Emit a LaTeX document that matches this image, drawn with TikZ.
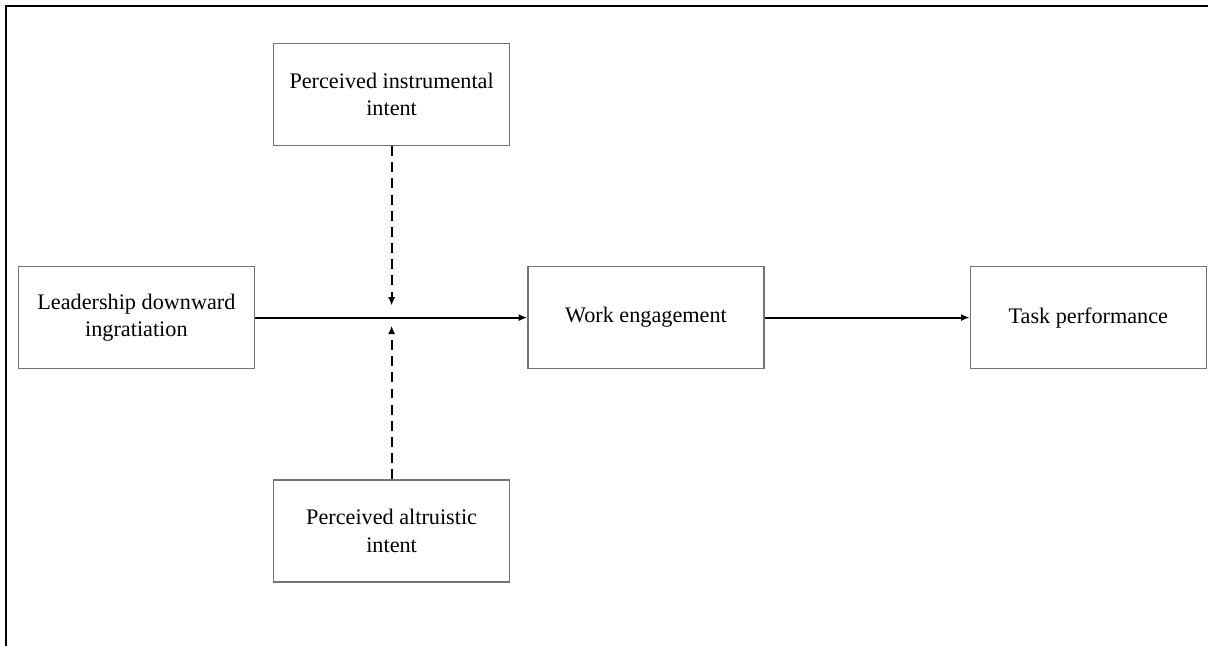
\documentclass[tikz,border=0pt]{standalone}
\usepackage{fontspec}
\setmainfont{Liberation Serif}
\usetikzlibrary{positioning,arrows.meta}

\begin{document}
\begin{tikzpicture}[
    box/.style={draw=black!55, line width=1.1pt, minimum width=5.9cm, minimum height=2.55cm,
        inner sep=2pt, align=center, font=\fontsize{15.8}{19.5}\selectfont},
    link/.style={line width=1.3pt, -{Latex[length=6pt,width=5pt]}},
    modline/.style={link, dash pattern=on 7pt off 4.5pt}
]
    \useasboundingbox (0,0) rectangle (30.2,16.15);

    % Marco exterior (solo se ven dos lados)
    \draw[line width=1.8pt] (0.15,0) -- (0.15,16.0) -- (30.2,16.0);

    % Cadena principal
    \node[box] (lead) at (3.41,8.21) {Leadership downward\\ingratiation};
    \node[box, right=6.8cm of lead] (work) {Work engagement};
    \node[box, right=5.12cm of work] (task) {Task performance};

    % Moderadores
    \node[box] (instr) at (9.79,13.79) {Perceived instrumental\\intent};
    \node[box] (altru) at (9.79,2.875) {Perceived altruistic\\intent};

    % Flechas
    \draw[link] (lead) -- (work);
    \draw[link] (work) -- (task);

    \coordinate (cross) at (instr.south |- lead.east);
    \draw[modline] (instr.south) -- ([yshift=0.3cm]cross);
    \draw[modline] (altru.north) -- ([yshift=-0.2cm]cross);
\end{tikzpicture}
\end{document}
